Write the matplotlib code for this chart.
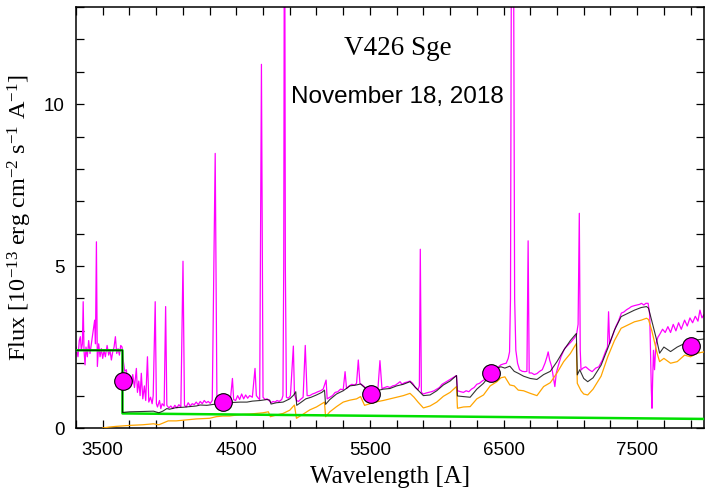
import numpy as np
import matplotlib
matplotlib.use("Agg")
import matplotlib.pyplot as plt
from matplotlib.ticker import MultipleLocator, FixedLocator

# Fonts: serif for labels/name, sans for ticks/date (gnuplot look)
plt.rcParams['font.family'] = ['Liberation Serif', 'DejaVu Serif']
plt.rcParams['mathtext.fontset'] = 'custom'
plt.rcParams['mathtext.rm'] = 'Liberation Serif'
plt.rcParams['mathtext.it'] = 'Liberation Serif:italic'

obs_wl = [3300, 3315, 3325, 3333, 3340, 3348, 3354, 3360, 3368, 3375, 3385, 3395, 3405, 3415,
          3428, 3440, 3446, 3453, 3460, 3470, 3480, 3490, 3500, 3510, 3520, 3533, 3545, 3555,
          3565, 3575, 3585, 3595, 3605, 3615, 3625, 3635, 3645, 3655, 3665, 3677, 3688, 3700,
          3712, 3725, 3738, 3752, 3760, 3770, 3780, 3789, 3800, 3812, 3822, 3835, 3845, 3858,
          3870, 3878, 3893, 3902, 3910, 3925, 3935, 3945, 3960, 3971, 3980, 3995, 4010, 4025,
          4040, 4055, 4070, 4085, 4101, 4112, 4125, 4140, 4155, 4170, 4185, 4200, 4215, 4230,
          4245, 4260, 4275, 4290, 4305, 4320, 4342, 4355, 4370, 4385, 4400, 4420, 4440, 4455,
          4471, 4480, 4495, 4510, 4525, 4540, 4555, 4570, 4585, 4600, 4620, 4640, 4650, 4665,
          4675, 4688, 4700, 4715, 4730, 4745, 4760, 4775, 4790, 4805, 4820, 4840, 4849, 4855,
          4861, 4867, 4875, 4890, 4905, 4927, 4935, 4950, 4965, 4980, 5000, 5016, 5030, 5050,
          5070, 5090, 5110, 5130, 5150, 5172, 5180, 5200, 5220, 5240, 5260, 5280, 5300, 5314,
          5325, 5345, 5365, 5385, 5400, 5413, 5425, 5445, 5465, 5485, 5500, 5520, 5540, 5560,
          5575, 5590, 5610, 5630, 5650, 5670, 5690, 5710, 5725, 5740, 5760, 5780, 5800, 5820,
          5840, 5860, 5870, 5877, 5885, 5900, 5920, 5940, 5960, 5980, 6000, 6020, 6040, 6060,
          6080, 6100, 6120, 6148, 6155, 6180, 6200, 6220, 6240, 6260, 6280, 6300, 6320, 6340,
          6360, 6380, 6400, 6420, 6440, 6460, 6480, 6500, 6520, 6535, 6545, 6552, 6558, 6566,
          6576, 6583, 6592, 6605, 6620, 6640, 6660, 6675, 6684, 6692, 6710, 6730, 6750, 6770,
          6790, 6810, 6825, 6834, 6845, 6860, 6875, 6884, 6895, 6910, 6930, 6958, 6980, 7008,
          7030, 7046, 7058, 7067, 7074, 7080, 7095, 7115, 7140, 7163, 7190, 7213, 7240, 7263,
          7278, 7286, 7294, 7300, 7320, 7340, 7360, 7382, 7400, 7420, 7440, 7457, 7480, 7500,
          7520, 7532, 7550, 7565, 7582, 7594, 7600, 7606, 7611, 7616, 7622, 7630, 7640, 7655,
          7670, 7690, 7710, 7730, 7750, 7770, 7790, 7810, 7830, 7855, 7875, 7895, 7915, 7935,
          7955, 7970, 7985, 8000]
obs_flux = [2.50, 2.20, 2.70, 2.82, 2.40, 2.60, 3.90, 2.40, 1.95, 2.50, 2.20, 2.70, 2.30, 2.60,
            3.00, 3.33, 2.60, 5.75, 1.90, 2.60, 2.20, 2.45, 2.15, 2.40, 2.20, 2.55, 2.25, 2.40,
            2.10, 2.35, 2.50, 2.82, 2.30, 2.45, 2.25, 2.55, 2.50, 2.05, 1.75, 1.80, 1.40, 1.60,
            1.35, 1.65, 1.25, 1.84, 1.10, 1.45, 1.00, 1.69, 0.90, 1.30, 0.85, 2.20, 0.80, 0.95,
            0.75, 1.00, 3.90, 0.75, 0.65, 0.85, 0.60, 0.75, 0.68, 3.75, 0.70, 0.62, 0.68, 0.60,
            0.70, 0.62, 0.72, 0.65, 5.15, 0.70, 0.65, 0.78, 0.68, 0.75, 0.72, 0.80, 0.72, 0.82,
            0.75, 0.85, 0.78, 0.82, 0.76, 0.85, 8.48, 0.80, 0.85, 0.78, 0.88, 0.84, 0.90, 0.85,
            1.53, 0.88, 0.85, 1.00, 0.88, 1.05, 0.90, 1.02, 0.92, 1.00, 0.95, 1.84, 1.00, 0.92,
            0.88, 11.23, 0.95, 0.88, 0.90, 0.85, 0.78, 0.82, 0.80, 0.85, 0.82, 0.88, 1.00, 5.00,
            20.0, 5.00, 0.95, 0.92, 1.00, 2.53, 1.05, 0.85, 0.82, 0.88, 0.95, 2.55, 1.00, 1.00,
            1.05, 1.08, 1.12, 1.15, 1.20, 1.48, 0.90, 0.95, 1.00, 1.10, 1.12, 1.20, 1.18, 1.74,
            1.22, 1.30, 1.35, 1.32, 1.38, 2.10, 1.38, 1.32, 1.25, 1.15, 1.12, 1.15, 1.18, 1.22,
            2.08, 1.22, 1.25, 1.28, 1.25, 1.30, 1.32, 1.38, 1.43, 1.35, 1.40, 1.42, 1.45, 1.38,
            1.25, 1.18, 1.30, 5.52, 1.10, 1.05, 1.08, 1.10, 1.12, 1.15, 1.20, 1.25, 1.35, 1.40,
            1.45, 1.50, 1.55, 1.62, 1.15, 1.12, 1.10, 1.15, 1.12, 1.20, 1.25, 1.35, 1.38, 1.45,
            1.50, 1.62, 1.70, 1.75, 1.85, 1.88, 1.95, 1.98, 2.00, 2.15, 2.35, 4.00, 13.5, 45.0,
            13.5, 4.00, 2.40, 2.00, 1.80, 1.75, 1.74, 1.75, 5.78, 1.70, 1.70, 1.65, 1.68, 1.75,
            1.80, 2.00, 2.20, 2.35, 2.10, 1.90, 1.50, 1.28, 1.70, 1.93, 2.20, 2.46, 2.55, 2.67,
            2.78, 2.88, 3.20, 6.63, 2.40, 1.79, 1.85, 1.89, 1.80, 1.74, 1.85, 1.89, 2.10, 2.36,
            2.50, 3.59, 2.60, 2.67, 2.90, 3.13, 3.30, 3.55, 3.58, 3.65, 3.70, 3.75, 3.78, 3.80,
            3.82, 3.85, 3.80, 3.85, 3.85, 3.50, 2.30, 1.20, 0.61, 1.50, 2.40, 1.80, 2.60, 2.80,
            2.90, 3.05, 2.95, 3.13, 2.95, 3.20, 3.00, 3.25, 3.05, 3.33, 3.15, 3.40, 3.25, 3.45,
            3.30, 3.64, 3.40, 3.50]

# total model (black)
mod_wl = [3300, 3648, 3648, 3700, 3800, 3880, 3920, 3950, 3980, 4000, 4050, 4100, 4150, 4200,
          4230, 4280, 4330, 4380, 4430, 4480, 4530, 4580, 4620, 4680, 4730, 4750, 4760, 4800,
          4850, 4900, 4930, 4945, 4952, 4980, 5020, 5060, 5100, 5140, 5160, 5168, 5200, 5250,
          5300, 5350, 5400, 5430, 5460, 5500, 5550, 5600, 5650, 5700, 5750, 5800, 5830, 5860,
          5900, 5950, 6000, 6050, 6100, 6148, 6155, 6200, 6250, 6300, 6350, 6400, 6450, 6480,
          6510, 6547, 6580, 6610, 6650, 6700, 6750, 6800, 6850, 6900, 6950, 7000, 7045, 7052,
          7070, 7100, 7130, 7170, 7230, 7280, 7330, 7380, 7430, 7480, 7530, 7570, 7585, 7610,
          7650, 7668, 7700, 7750, 7800, 7855, 7900, 7950, 8000]
mod_flux = [2.40, 2.40, 0.48, 0.50, 0.51, 0.52, 0.47, 0.52, 0.60, 0.58, 0.63, 0.64, 0.66, 0.68,
            0.71, 0.70, 0.73, 0.75, 0.76, 0.79, 0.80, 0.80, 0.83, 0.85, 0.88, 0.86, 0.74, 0.78,
            0.80, 0.90, 1.02, 1.12, 0.70, 0.78, 0.90, 0.95, 1.02, 1.10, 1.17, 0.73, 0.88, 1.05,
            1.15, 1.30, 1.33, 1.36, 1.25, 1.10, 1.15, 1.20, 1.22, 1.30, 1.35, 1.43, 1.30, 1.17,
            1.00, 1.02, 1.15, 1.33, 1.45, 1.62, 0.99, 0.97, 0.95, 1.20, 1.38, 1.65, 1.85, 1.89,
            1.85, 1.91, 1.75, 1.69, 1.60, 1.53, 1.50, 1.65, 1.75, 2.05, 2.40, 2.70, 2.92, 1.64,
            1.80, 1.53, 1.43, 1.55, 1.94, 2.46, 3.02, 3.44, 3.54, 3.64, 3.72, 3.75, 3.70, 3.30,
            2.65, 2.31, 2.50, 2.36, 2.50, 2.61, 2.55, 2.72, 2.75]

# stellar (M giant) component (orange)
star_wl = [3500, 3550, 3600, 3700, 3800, 3880, 3920, 3950, 3990, 4050, 4100, 4150, 4200, 4250,
           4300, 4350, 4400, 4450, 4500, 4550, 4600, 4650, 4700, 4740, 4755, 4800, 4850, 4900,
           4935, 4950, 4990, 5050, 5100, 5160, 5168, 5200, 5250, 5300, 5350, 5400, 5430, 5460,
           5500, 5550, 5600, 5650, 5700, 5750, 5800, 5830, 5860, 5900, 5950, 6000, 6050, 6100,
           6148, 6155, 6200, 6250, 6300, 6350, 6400, 6450, 6480, 6510, 6547, 6580, 6610, 6650,
           6700, 6750, 6800, 6850, 6900, 6950, 7000, 7045, 7052, 7080, 7100, 7130, 7170, 7230,
           7280, 7330, 7380, 7430, 7480, 7530, 7570, 7585, 7610, 7650, 7668, 7700, 7750, 7800,
           7855, 7900, 7950, 8000]
star_flux = [0.00, 0.03, 0.05, 0.08, 0.10, 0.13, 0.10, 0.15, 0.22, 0.22, 0.24, 0.26, 0.28, 0.29,
             0.30, 0.35, 0.37, 0.37, 0.40, 0.42, 0.43, 0.45, 0.47, 0.50, 0.35, 0.40, 0.45, 0.55,
             0.71, 0.30, 0.40, 0.56, 0.65, 0.80, 0.35, 0.50, 0.66, 0.80, 0.86, 0.90, 0.97, 0.70,
             0.75, 0.81, 0.85, 0.90, 0.95, 1.00, 1.07, 0.95, 0.80, 0.62, 0.68, 0.80, 0.98, 1.10,
             1.28, 0.61, 0.65, 0.66, 0.90, 1.02, 1.30, 1.43, 1.55, 1.58, 1.33, 1.30, 1.17, 1.15,
             1.07, 1.00, 1.28, 1.40, 1.70, 2.05, 2.30, 2.61, 1.38, 1.15, 1.05, 1.02, 1.20, 1.60,
             2.20, 2.70, 3.08, 3.18, 3.28, 3.33, 3.39, 3.35, 3.00, 2.30, 2.05, 2.15, 2.00, 2.05,
             2.25, 2.20, 2.31, 2.35]

# nebular continuum (green)
neb_wl = [3300, 3648, 3648, 8000]
neb_flux = [2.40, 2.40, 0.45, 0.28]

# broad-band photometry (magenta circles)
phot_wl = [3650, 4400, 5505, 6405, 7905]
phot_flux = [1.45, 0.81, 1.06, 1.71, 2.53]

fig = plt.figure(figsize=(7.10, 4.91), dpi=100)
ax = fig.add_axes([0.1070, 0.1283, 0.8845, 0.8574])

ax.plot(obs_wl, obs_flux, color='#ff00ff', lw=0.9, zorder=2)
ax.plot(star_wl, star_flux, color='#ffa500', lw=0.9, zorder=3)
ax.plot(neb_wl, neb_flux, color='#00e000', lw=1.8, zorder=4)
# model drawn half-transparent so the overlap with the nebular step reads dark green
ax.plot(mod_wl, mod_flux, color='black', lw=0.8, alpha=0.8, zorder=5)
ax.plot(phot_wl, phot_flux, 'o', ms=12.7, mfc='#ff00ff', mec='black', mew=0.8, zorder=6)

ax.set_xlim(3300, 8000)
ax.set_ylim(0, 13)
ax.xaxis.set_major_locator(FixedLocator([3500, 4500, 5500, 6500, 7500]))
ax.xaxis.set_minor_locator(MultipleLocator(200, offset=100))
ax.yaxis.set_major_locator(MultipleLocator(5))
ax.yaxis.set_minor_locator(MultipleLocator(1))

ax.tick_params(which='both', direction='in', top=True, right=True, length=5.8,
               width=0.9, labelsize=13.5)
ax.tick_params(axis='x', pad=10)
ax.tick_params(axis='y', pad=8)
for lab in ax.get_xticklabels() + ax.get_yticklabels():
    lab.set_family(['Liberation Sans', 'DejaVu Sans'])
for sp in ax.spines.values():
    sp.set_linewidth(1.1)

fig.text(390 / 710, 1 - 483 / 491, 'Wavelength [A]', ha='center', va='baseline', fontsize=18)
fig.text(20 / 710, 0.557, r'Flux [10$^{-13}$ erg cm$^{-2}$ s$^{-1}$ A$^{-1}$]',
         rotation=90, ha='center', va='center', fontsize=17.5)

fig.text(397.5 / 710, 1 - 55 / 491, 'V426 Sge', ha='center', va='baseline', fontsize=19.5)
fig.text(397 / 710, 1 - 102.7 / 491, 'November 18, 2018', ha='center', va='baseline',
         fontsize=17.5, family=['Liberation Sans', 'DejaVu Sans'])

fig.savefig('out.png', dpi=100)
